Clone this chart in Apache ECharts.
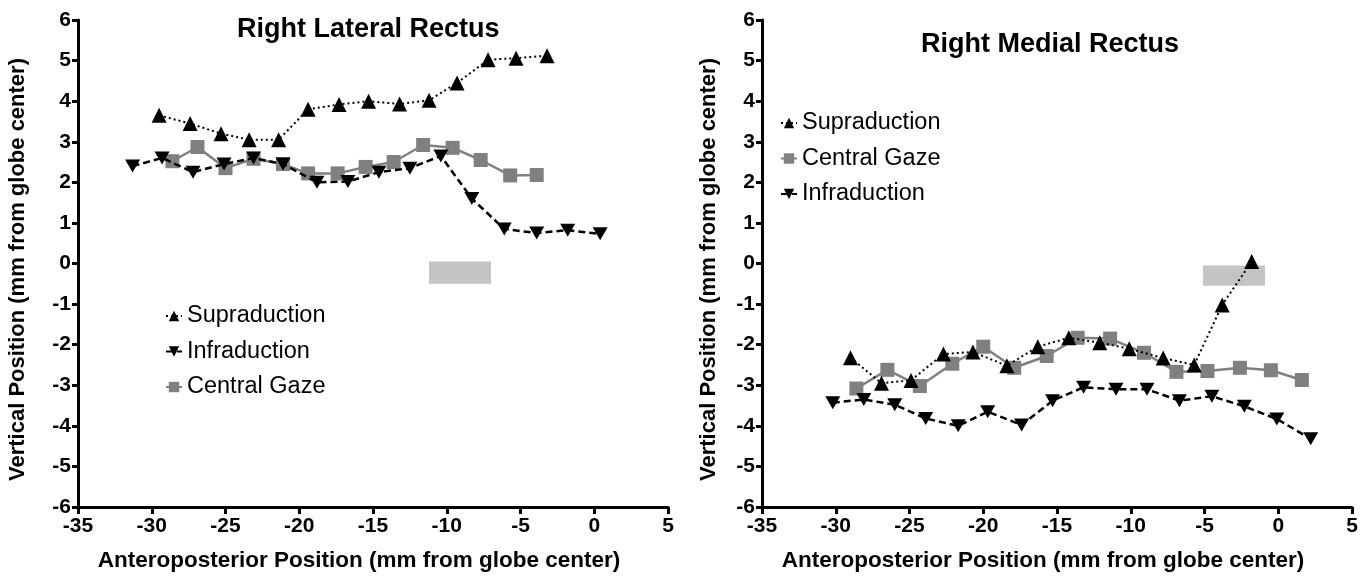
<!DOCTYPE html>
<html>
<head>
<meta charset="utf-8">
<script src="https://cdn.jsdelivr.net/npm/echarts@6/dist/echarts.min.js"></script>
<style>
  html, body { margin: 0; padding: 0; background: #fff; }
  #chart { width: 1368px; height: 580px; }
</style>
</head>
<body>
<div id="chart"></div>
<script>
// Right Lateral Rectus
var latSupraX = [-29.5, -27.4, -25.3, -23.4, -21.4, -19.4, -17.3, -15.3, -13.2, -11.2, -9.3, -7.2, -5.3, -3.2];
var latSupraY = [3.65, 3.45, 3.2, 3.05, 3.05, 3.8, 3.92, 4.0, 3.93, 4.02, 4.45, 5.02, 5.06, 5.12];
var latCentralX = [-28.6, -26.9, -25.0, -23.1, -21.1, -19.4, -17.4, -15.5, -13.6, -11.6, -9.6, -7.7, -5.7, -3.9];
var latCentralY = [2.52, 2.87, 2.35, 2.58, 2.45, 2.22, 2.22, 2.38, 2.5, 2.92, 2.85, 2.55, 2.17, 2.18];
var latInfraX = [-31.3, -29.3, -27.2, -25.1, -23.1, -21.1, -18.8, -16.7, -14.6, -12.5, -10.4, -8.3, -6.1, -3.9, -1.8, 0.4];
var latInfraY = [2.4, 2.6, 2.25, 2.45, 2.6, 2.45, 2.0, 2.02, 2.25, 2.35, 2.65, 1.6, 0.85, 0.75, 0.82, 0.73];
var latBox = [[-11.2, 0.05], [-7.0, -0.5]];

// Right Medial Rectus
var medSupraX = [-29.0, -26.9, -24.9, -22.7, -20.7, -18.4, -16.3, -14.2, -12.1, -10.1, -7.8, -5.7, -3.8, -1.8];
var medSupraY = [-2.32, -2.95, -2.88, -2.23, -2.18, -2.52, -2.05, -1.83, -1.95, -2.1, -2.33, -2.5, -1.02, 0.05];
var medCentralX = [-28.6, -26.5, -24.3, -22.1, -20.0, -17.9, -15.7, -13.6, -11.4, -9.1, -6.9, -4.8, -2.6, -0.5, 1.6];
var medCentralY = [-3.08, -2.62, -3.02, -2.47, -2.05, -2.57, -2.28, -1.83, -1.85, -2.2, -2.67, -2.65, -2.57, -2.63, -2.87];
var medInfraX = [-30.2, -28.1, -26.0, -23.9, -21.7, -19.7, -17.4, -15.3, -13.2, -11.0, -8.9, -6.7, -4.5, -2.3, -0.1, 2.2];
var medInfraY = [-3.43, -3.35, -3.48, -3.82, -4.0, -3.65, -3.98, -3.38, -3.05, -3.1, -3.1, -3.38, -3.27, -3.52, -3.83, -4.32];
var medBox = [[-5.1, -0.05], [-0.9, -0.55]];

var xTicks = [-35, 5, 5];   // min, max, step
var yTicks = [-6, 6, 1];

var FONT = '"Liberation Sans", Arial, sans-serif';
var downTri = 'path://M0,0L20,0L10,17Z';

function pairs(xs, ys) {
    var out = [];
    for (var i = 0; i < xs.length; i++) out.push([xs[i], ys[i]]);
    return out;
}

function xAxis(idx) {
    return {
        gridIndex: idx, type: 'value',
        min: xTicks[0], max: xTicks[1], interval: xTicks[2],
        name: 'Anteroposterior Position (mm from globe center)',
        nameLocation: 'middle', nameGap: 42,
        nameTextStyle: { fontFamily: FONT, fontWeight: 'bold', fontSize: 22.5, color: '#000', padding: [0, 28, 0, 0] },
        axisLine: { onZero: false, lineStyle: { color: '#000', width: 3 } },
        axisTick: { length: 7, lineStyle: { color: '#000', width: 3 } },
        axisLabel: { margin: 9, fontFamily: FONT, fontWeight: 'bold', fontSize: 21, color: '#000' },
        splitLine: { show: false }
    };
}

function yAxis(idx, gap) {
    return {
        gridIndex: idx, type: 'value',
        min: yTicks[0], max: yTicks[1], interval: yTicks[2],
        name: 'Vertical Position (mm from globe center)',
        nameLocation: 'middle', nameGap: gap,
        nameTextStyle: { fontFamily: FONT, fontWeight: 'bold', fontSize: 22, color: '#000', padding: [0, 12, 0, 0] },
        axisLine: { onZero: false, lineStyle: { color: '#000', width: 3 } },
        axisTick: { length: 6, lineStyle: { color: '#000', width: 3 } },
        axisLabel: { margin: 7, fontFamily: FONT, fontWeight: 'bold', fontSize: 21, color: '#000' },
        splitLine: { show: false }
    };
}

function supra(idx, xs, ys, box) {
    return {
        name: 'Supraduction', type: 'line', xAxisIndex: idx, yAxisIndex: idx,
        data: pairs(xs, ys),
        symbol: 'triangle', symbolSize: 15,
        itemStyle: { color: '#000' },
        lineStyle: { color: '#000', width: 2, type: [2, 3] },
        markArea: {
            silent: true,
            itemStyle: { color: '#c4c4c4' },
            data: [[{ coord: box[0] }, { coord: box[1] }]]
        },
        z: 3
    };
}

function central(idx, xs, ys) {
    return {
        name: 'Central Gaze', type: 'line', xAxisIndex: idx, yAxisIndex: idx,
        data: pairs(xs, ys),
        symbol: 'rect', symbolSize: 14,
        itemStyle: { color: '#808080' },
        lineStyle: { color: '#808080', width: 2.5 },
        z: 2
    };
}

function infra(idx, xs, ys) {
    return {
        name: 'Infraduction', type: 'line', xAxisIndex: idx, yAxisIndex: idx,
        data: pairs(xs, ys),
        symbol: downTri, symbolSize: [15, 13],
        itemStyle: { color: '#000' },
        lineStyle: { color: '#000', width: 2.5, type: [7, 4] },
        z: 4
    };
}

function legend(left, top, names) {
    return {
        orient: 'vertical', left: left, top: top,
        data: names, itemWidth: 16, itemHeight: 13, itemGap: 11.5,
        selectedMode: false,
        textStyle: { fontFamily: FONT, fontSize: 23.5, color: '#000' }
    };
}

var option = {
    animation: false,
    backgroundColor: '#fff',
    title: [
        { text: 'Right Lateral Rectus', left: 237, top: 16, padding: 0,
          textStyle: { fontFamily: FONT, fontWeight: 'bold', fontSize: 27, color: '#000' } },
        { text: 'Right Medial Rectus', left: 921, top: 31, padding: 0,
          textStyle: { fontFamily: FONT, fontWeight: 'bold', fontSize: 27, color: '#000' } }
    ],
    legend: [
        legend(160, 299, ['Supraduction', 'Infraduction', 'Central Gaze']),
        legend(775, 106, ['Supraduction', 'Central Gaze', 'Infraduction'])
    ],
    grid: [
        { left: 78, top: 20, width: 590, height: 487 },
        { left: 762, top: 20, width: 590, height: 487 }
    ],
    xAxis: [xAxis(0), xAxis(1)],
    yAxis: [yAxis(0, 49), yAxis(1, 42)],
    series: [
        supra(0, latSupraX, latSupraY, latBox),
        central(0, latCentralX, latCentralY),
        infra(0, latInfraX, latInfraY),
        supra(1, medSupraX, medSupraY, medBox),
        central(1, medCentralX, medCentralY),
        infra(1, medInfraX, medInfraY)
    ]
};

var myChart = echarts.init(document.getElementById('chart'));
myChart.setOption(option);
</script>
</body>
</html>
